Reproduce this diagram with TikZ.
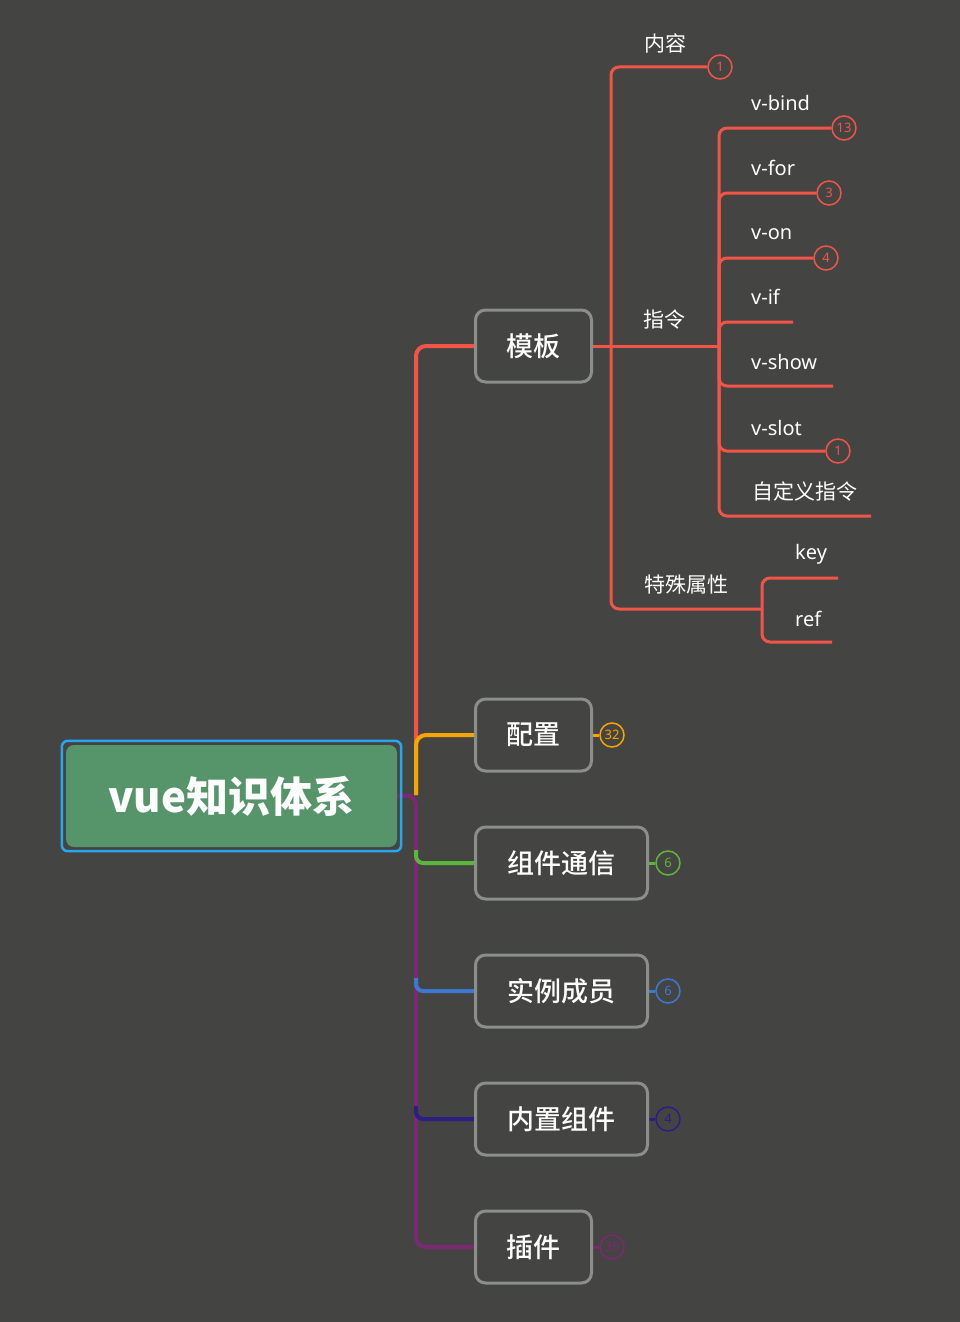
\documentclass[tikz,border=0pt]{standalone}
\usepackage{fontspec}
\setmainfont{Noto Sans}
\newfontfamily\cjk{Noto Sans CJK SC}
\newfontfamily\cjkm{Noto Sans CJK SC}[UprightFont={* Medium}]
\pgfdeclarelayer{back}
\pgfdeclarelayer{lines}
\pgfsetlayers{back,lines,main}
\definecolor{bgc}{RGB}{68,69,66}
\definecolor{cred}{RGB}{242,85,72}
\definecolor{corange}{RGB}{247,165,0}
\definecolor{cgreen}{RGB}{92,182,62}
\definecolor{cblue}{RGB}{62,121,209}
\definecolor{cindigo}{RGB}{45,30,130}
\definecolor{cpurple}{RGB}{125,40,115}
\definecolor{boxgray}{RGB}{140,142,138}
\definecolor{rootgreen}{RGB}{86,149,106}
\definecolor{rootblue}{RGB}{40,166,240}
\tikzset{
  topic/.style={draw=boxgray, line width=3pt, rounded corners=10pt, fill=bgc, text=white,
    font=\cjkm\fontsize{27}{27}\selectfont, minimum height=72pt, inner sep=0pt, anchor=west},
  twobox/.style={topic, minimum width=116pt},
  fourbox/.style={topic, minimum width=172pt},
  badge/.style={circle, draw=#1, text=#1, line width=1.5pt, fill=bgc, minimum size=24pt, inner sep=0pt,
    font=\fontsize{13}{13}\selectfont},
  mainline/.style={line width=4pt, rounded corners=10pt},
  subline/.style={cred, line width=3pt, rounded corners=8pt},
  lab/.style={text=white, font=\fontsize{20}{20}\selectfont, inner sep=0pt},
  clab/.style={text=white, font=\cjk\fontsize{21}{21}\selectfont, inner sep=0pt},
}
\begin{document}
\begin{tikzpicture}[x=1pt,y=-1pt]
\begin{pgfonlayer}{back}
\fill[bgc] (0,0) rectangle (960,1322);
\end{pgfonlayer}
\useasboundingbox (0,0) rectangle (960,1322);

% root
\node[fill=rootgreen, rounded corners=8pt, minimum width=331pt, minimum height=102pt, inner sep=0pt,
  text=white, font=\cjk\bfseries\fontsize{42}{42}\selectfont] (root) at (231.5,796) {vue知识体系};
\draw[rootblue, line width=2.5pt, rounded corners=6pt]
  ([shift={(-4,-4)}]root.north west) rectangle ([shift={(4,4)}]root.south east);

% main topics
\node[twobox] (mb) at (474,346) {模板};
\node[twobox] (pz) at (474,735) {配置};
\node[fourbox] (zj) at (474,863) {组件通信};
\node[fourbox] (sl) at (474,991) {实例成员};
\node[fourbox] (nz) at (474,1119) {内置组件};
\node[twobox] (cj) at (474,1247) {插件};

% badges of main topics
\node[badge=corange] (bpz) at (612,735) {32};
\node[badge=cgreen] (bzj) at (668,863) {6};
\node[badge=cblue] (bsl) at (668,991) {6};
\node[badge=cindigo] (bnz) at (668,1119) {4};
\node[badge=cpurple] (bcj) at (612,1247) {35};

% junction coordinates
\coordinate (j) at (416,795);
\coordinate (zl) at (719,346);
\coordinate (ts) at (762,609);

% red subtree labels and badges
\node[clab] (nr) at (665,43) {内容};
\node[badge=cred] (bnr) at (720,67) {1};
\node[clab] (zlt) at (664,320) {指令};
\node[clab] (tst) at (686,585) {特殊属性};

\node[lab, anchor=west] (vbind) at (751,103) {v-bind};
\node[badge=cred] (bvbind) at (844,128) {13};
\node[lab, anchor=west] (vfor) at (751,168) {v-for};
\node[badge=cred] (bvfor) at (829,193) {3};
\node[lab, anchor=west] (von) at (751,234) {v-on};
\node[badge=cred] (bvon) at (826,258) {4};
\node[lab, anchor=west] (vif) at (751,297) {v-if};
\coordinate (evif) at (793,322);
\node[lab, anchor=west] (vshow) at (751,362) {v-show};
\coordinate (evshow) at (833,386);
\node[lab, anchor=west] (vslot) at (751,428) {v-slot};
\node[badge=cred] (bvslot) at (838,451) {1};
\node[clab, anchor=west] (zdy) at (752,491) {自定义指令};
\coordinate (ezdy) at (871,516);

\node[lab, anchor=west] (key) at (795,554) {key};
\coordinate (ekey) at (838,578);
\node[lab, anchor=west] (ref) at (795,619) {ref};
\coordinate (eref) at (832,642);

\begin{pgfonlayer}{lines}
% main connectors
\draw[cpurple, mainline] (root.east) -- (j) -- (416,1247) -- (cj.west);
\draw[cred, mainline] (j) -- (416,346) -- (mb.west);
\draw[corange, mainline] (j) -- (416,735) -- (pz.west);
\draw[cgreen, mainline, rounded corners=7pt] (416,850) -- (416,863) -- (zj.west);
\draw[cblue, mainline, rounded corners=7pt] (416,978) -- (416,991) -- (sl.west);
\draw[cindigo, mainline, rounded corners=7pt] (416,1106) -- (416,1119) -- (nz.west);
% badge stubs
\draw[corange, line width=3pt] (pz.east) -- (bpz.west);
\draw[cgreen, line width=3pt] (zj.east) -- (bzj.west);
\draw[cblue, line width=3pt] (sl.east) -- (bsl.west);
\draw[cindigo, line width=3pt] (nz.east) -- (bnz.west);
\draw[cpurple, line width=3pt] (cj.east) -- (bcj.west);
% red subtree
\draw[subline] (mb.east) -- (zl);
\draw[subline] (611,346) -- (611,67) -- (bnr.west);
\draw[subline] (611,346) -- (611,609) -- (ts);
\draw[subline] (zl) -- (719,128) -- (bvbind.west);
\draw[subline] (zl) -- (719,193) -- (bvfor.west);
\draw[subline] (zl) -- (719,258) -- (bvon.west);
\draw[subline] (zl) -- (719,322) -- (evif);
\draw[subline] (zl) -- (719,386) -- (evshow);
\draw[subline] (zl) -- (719,451) -- (bvslot.west);
\draw[subline] (zl) -- (719,516) -- (ezdy);
\draw[subline] (ts) -- (762,578) -- (ekey);
\draw[subline] (ts) -- (762,642) -- (eref);
\end{pgfonlayer}
\end{tikzpicture}
\end{document}
